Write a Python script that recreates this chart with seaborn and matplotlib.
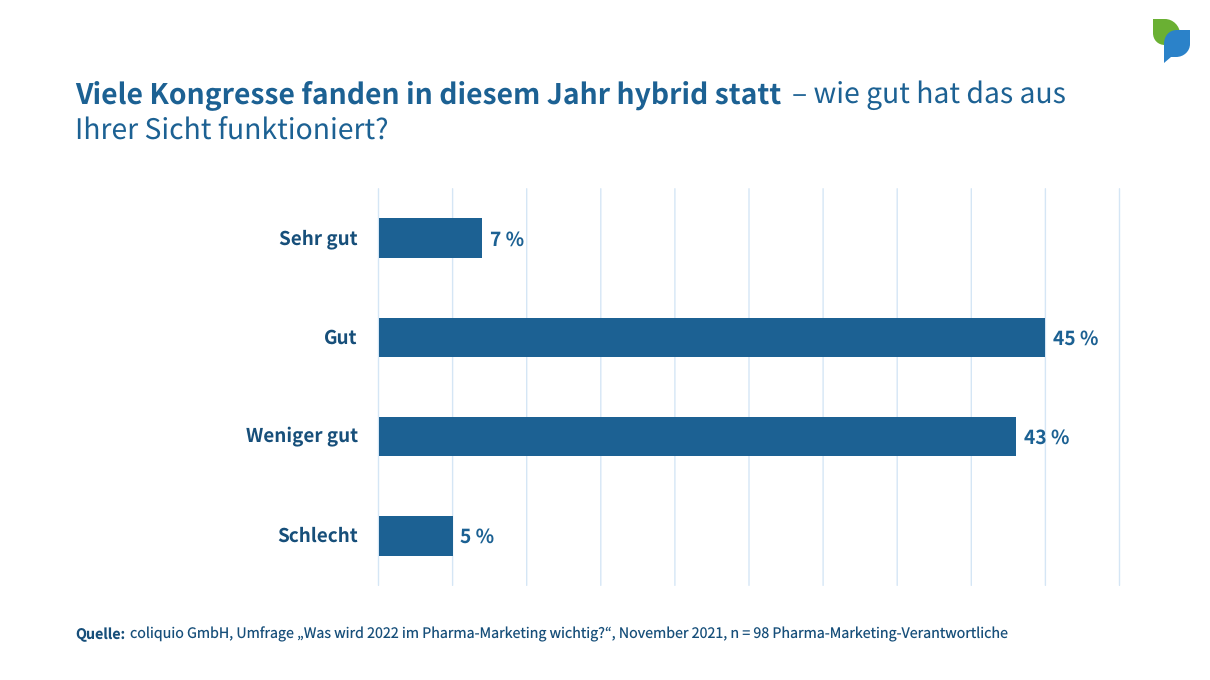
import matplotlib
matplotlib.use("Agg")
import matplotlib.pyplot as plt
from matplotlib.path import Path
from matplotlib.patches import PathPatch
from matplotlib.transforms import ScaledTranslation
import pandas as pd
import seaborn as sns

categories = ["Sehr gut", "Gut", "Weniger gut", "Schlecht"]
values = [7, 45, 43, 5]
x_ticks = [0, 5, 10, 15, 20, 25, 30, 35, 40, 45, 50]

title_bold = "Viele Kongresse fanden in diesem Jahr hybrid statt"
title_rest1 = "– wie gut hat das aus"
title_rest2 = "Ihrer Sicht funktioniert?"
source_bold = "Quelle:"
source_text = "coliquio GmbH, Umfrage „Was wird 2022 im Pharma-Marketing wichtig?“, November 2021, n = 98 Pharma-Marketing-Verantwortliche"

BLUE = "#1c6193"
DARK = "#174f7a"
GRID = "#d5e6f5"
FONT = ["Noto Sans CJK JP", "DejaVu Sans"]
W, H = 1210, 680

sns.set_theme(style="white")
plt.rcParams["font.family"] = FONT
plt.rcParams["text.hinting"] = "no_hinting"

fig = plt.figure(figsize=(W / 100, H / 100), dpi=100, facecolor="white")
ax = fig.add_axes([378.5 / W, 1 - 585.4 / H, 741 / W, 396.7 / H])

df = pd.DataFrame({"Kategorie": categories, "Wert": values})
sns.barplot(data=df, y="Kategorie", x="Wert", color=BLUE, saturation=1, width=0.4, linewidth=0, ax=ax, zorder=3)

ax.set_xlim(0, 50)
ax.set_ylim(3.5, -0.5)
ax.set_xticks(x_ticks)
ax.grid(axis="x", color=GRID, linewidth=1)
ax.grid(axis="y", visible=False)
for gl in ax.get_xgridlines():
    gl.set_clip_on(False)
    gl.set_snap(False)
ax.set_axisbelow(True)
ax.set_xlabel("")
ax.set_ylabel("")
for s in ax.spines.values():
    s.set_visible(False)
ax.tick_params(axis="x", length=0, labelbottom=False)
ax.tick_params(axis="y", length=0, pad=15)
up = ScaledTranslation(0, 1.5 / 100, fig.dpi_scale_trans)
for lab in ax.get_yticklabels():
    lab.set_fontsize(13.6)
    lab.set_fontweight("bold")
    lab.set_color(DARK)
    lab.set_transform(lab.get_transform() + up)

for i, v in enumerate(values):
    ax.annotate(f"{v} %", xy=(v, i), xytext=(5.6, -1.2), textcoords="offset points", ha="left", va="center",
                fontsize=13.8, fontweight="bold", color=BLUE, zorder=4)


def px(x, y):
    return x / W, 1 - y / H


fig.text(*px(75, 95), title_bold, fontsize=20.4, fontweight="bold", color=BLUE, va="center", ha="left")
fig.text(*px(792, 95), title_rest1, fontsize=20.4, color=BLUE, va="center", ha="left")
fig.text(*px(75, 132), title_rest2, fontsize=20.4, color=BLUE, va="center", ha="left")
fig.text(*px(75.5, 634.5), source_bold, fontsize=10.25, fontweight="bold", color=DARK, va="center", ha="left")
fig.text(*px(130, 634.5), source_text, fontsize=10.25, color=DARK, va="center", ha="left")

# Logo
M, L, C, Z = Path.MOVETO, Path.LINETO, Path.CURVE4, Path.CLOSEPOLY
green = Path([px(1153, 19), px(1165, 19),
              px(1173, 19), px(1180, 26), px(1180, 34),
              px(1180, 41), px(1173, 45), px(1165, 45),
              px(1158, 45), px(1153, 40), px(1153, 33),
              px(1153, 19)],
             [M, L, C, C, C, C, C, C, C, C, C, Z])
blue = Path([px(1190, 30),
             px(1190, 44),
             px(1190, 51), px(1184, 57), px(1176, 57),
             px(1171, 57),
             px(1164, 63),
             px(1164, 44),
             px(1164, 36), px(1169, 30), px(1177, 30),
             px(1190, 30)],
            [M, L, C, C, C, L, L, L, C, C, C, Z])
fig.add_artist(PathPatch(green, facecolor="#6ab033", edgecolor="none", transform=fig.transFigure))
fig.add_artist(PathPatch(blue, facecolor="#2b82c9", edgecolor="none", transform=fig.transFigure))

fig.savefig("out.png", dpi=100, facecolor="white")
